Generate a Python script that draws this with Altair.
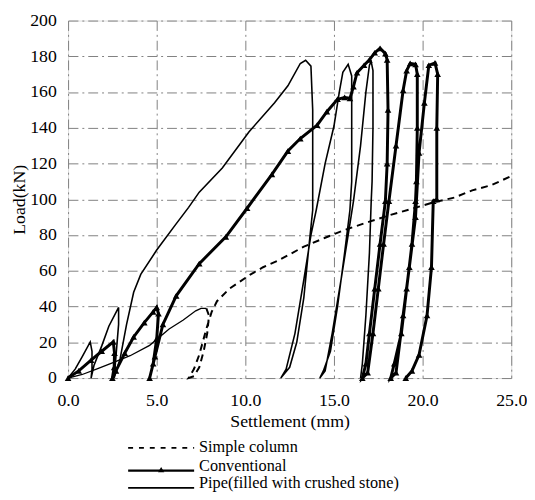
import altair as alt
import pandas as pd

# ---- data ----
# Simple column: first loading (drawn as a fine line), then unload/reload (dashed)
simple_first_x = [0.0, 0.8, 1.6, 2.5, 3.5, 4.6, 5.7, 6.5, 7.2, 7.5, 7.8]
simple_first_y = [0.0, 2.0, 5.0, 8.5, 12.5, 18.3, 27.5, 32.5, 37.6, 39.0, 39.0]
simple_x = [7.8, 7.95, 7.85, 7.65, 7.4, 7.1, 6.8, 7.1, 7.4, 7.8, 8.1, 8.4, 9.1, 10.3, 11.0,
            11.8, 13.3, 14.5, 15.5, 17.0, 18.1, 19.5, 20.5, 21.8, 22.8, 23.9, 25.0]
simple_y = [39.0, 35.0, 25.0, 15.0, 6.0, 1.0, 0.0, 5.0, 13.0, 27.5, 37.0, 43.0, 50.0, 58.0, 62.0,
            65.5, 73.5, 78.5, 82.5, 87.5, 91.0, 95.0, 98.0, 101.0, 105.0, 108.0, 113.0]

conv_x = [0.0, 0.6, 1.3, 1.9, 2.55, 2.62, 2.6, 2.5,
          2.7, 3.2, 3.7, 4.3, 4.8, 5.0, 5.1, 5.0, 4.8, 4.6,
          4.9, 5.35, 6.1, 7.4, 8.9, 10.1, 11.5, 12.4, 13.1, 14.05, 14.6, 15.2, 15.6, 15.9,
          16.1, 16.3, 16.7, 17.0, 17.3, 17.6, 17.9, 18.0,
          18.05, 18.0, 17.9, 17.6, 17.3, 17.0, 16.8, 16.6,
          16.9, 17.2, 17.5, 17.8, 18.1, 18.5, 18.9, 19.1, 19.3, 19.6, 19.7,
          19.7, 19.65, 19.6, 19.4, 19.1, 18.8, 18.4, 18.2,
          18.5, 18.9, 19.25, 19.6, 19.8, 20.1, 20.35, 20.7, 20.85,
          20.8, 20.8, 20.6, 20.5, 20.25, 19.8, 19.4, 19.05]
conv_y = [0.0, 4.0, 10.0, 15.0, 20.3, 14.0, 6.0, 0.0,
          4.0, 14.0, 23.0, 31.0, 37.0, 39.5, 36.0, 22.0, 8.0, 0.0,
          12.0, 30.0, 46.0, 64.0, 79.0, 95.0, 114.0, 127.0, 134.0, 141.5, 149.0, 156.0, 157.0, 156.5,
          163.0, 170.8, 175.0, 178.0, 182.0, 184.5, 181.5, 178.0,
          150.0, 120.0, 99.0, 75.0, 50.0, 25.0, 8.0, 0.0,
          3.0, 25.0, 50.0, 75.0, 99.0, 130.0, 161.0, 172.0, 176.0, 175.5, 170.0,
          140.0, 110.0, 99.0, 75.0, 50.0, 25.0, 8.0, 0.0,
          3.0, 35.0, 62.0, 90.0, 126.0, 154.0, 175.0, 176.3, 170.0,
          140.0, 100.0, 99.0, 62.0, 35.0, 13.0, 4.0, 0.0]

pipe_x = [0.0, 0.4, 0.8, 1.25, 1.35, 1.35, 1.3,
          1.46, 1.9, 2.3, 2.85, 2.85, 2.7, 2.6,
          2.94, 3.3, 3.7, 4.1, 5.0, 6.0, 6.8, 7.4, 8.7, 10.2, 11.65, 12.4, 13.1, 13.4, 13.7,
          13.8, 13.8, 13.8, 13.6, 13.3, 12.9, 12.5, 12.0,
          12.3, 12.8, 13.3, 13.7, 14.0, 14.5, 15.0, 15.3, 15.5, 15.8, 16.0,
          16.0, 16.0, 15.9, 15.6, 15.2, 14.8, 14.4, 14.2,
          14.5, 14.9, 15.4, 15.8, 16.1, 16.5, 16.8, 17.0, 17.1, 17.2,
          17.2, 17.15, 17.1, 17.0, 16.8, 16.6, 16.5]
pipe_y = [0.0, 5.0, 12.0, 20.2, 15.0, 5.0, 0.0,
          7.0, 18.0, 29.0, 39.5, 30.0, 12.0, 0.0,
          11.0, 30.0, 48.0, 58.0, 71.6, 85.0, 95.5, 104.0, 117.5, 137.7, 154.0, 163.5, 176.0, 177.8, 174.5,
          150.0, 120.0, 94.0, 75.0, 45.0, 20.0, 6.0, 0.0,
          5.0, 25.0, 55.0, 80.0, 94.0, 120.0, 141.0, 160.0, 171.0, 175.5, 169.0,
          140.0, 110.0, 94.0, 70.0, 40.0, 15.0, 4.0, 0.0,
          4.0, 25.0, 55.0, 80.0, 99.0, 130.0, 160.0, 175.0, 177.0, 172.0,
          140.0, 110.0, 99.0, 70.0, 35.0, 8.0, 0.0]

x_ticks = [0, 5, 10, 15, 20, 25]
y_ticks = [0, 20, 40, 60, 80, 100, 120, 140, 160, 180, 200]
legend_labels = ["Simple column", "Conventional", "Pipe(filled with crushed stone)"]


def frame(xs, ys):
    return pd.DataFrame({"i": list(range(len(xs))), "x": xs, "y": ys})


FONT = "Liberation Serif"
W, H = 450, 363

xenc = alt.X("x:Q", scale=alt.Scale(domain=[0, 25], nice=False),
             axis=alt.Axis(values=x_ticks, format=".1f", title="Settlement (mm)",
                           grid=True, gridDash=[10, 4, 2, 4], gridColor="#808080",
                           gridWidth=1, domain=False, ticks=False, labelPadding=14,
                           labelOverlap=False, labelFlush=False,
                           labelFont=FONT, labelFontSize=18, labelColor="black",
                           titleFont=FONT, titleFontSize=18, titleFontWeight="normal",
                           titleColor="black", titlePadding=3))
yenc = alt.Y("y:Q", scale=alt.Scale(domain=[0, 200], nice=False),
             axis=alt.Axis(values=y_ticks, title="Load(kN)",
                           grid=True, gridDash=[10, 4, 2, 4], gridColor="#808080",
                           gridWidth=1, domain=False, ticks=False, labelPadding=12,
                           labelOverlap=False, labelFlush=False,
                           labelFont=FONT, labelFontSize=18, labelColor="black",
                           titleFont=FONT, titleFontSize=18, titleFontWeight="normal",
                           titleColor="black", titlePadding=1))

simple_first = alt.Chart(frame(simple_first_x, simple_first_y)).mark_line(
    color="black", strokeWidth=1.3).encode(x=xenc, y=yenc, order="i:Q")
simple = alt.Chart(frame(simple_x, simple_y)).mark_line(
    color="black", strokeWidth=2, strokeDash=[7, 5]).encode(x=xenc, y=yenc, order="i:Q")
conv = alt.Chart(frame(conv_x, conv_y)).mark_line(
    color="black", strokeWidth=3).encode(x=xenc, y=yenc, order="i:Q")
conv_pts = alt.Chart(frame(conv_x, conv_y)).mark_point(
    shape="triangle-up", filled=True, size=45, color="black", opacity=1).encode(x=xenc, y=yenc)
pipe = alt.Chart(frame(pipe_x, pipe_y)).mark_line(
    color="black", strokeWidth=1.6).encode(x=xenc, y=yenc, order="i:Q")

# ---- legend drawn under the plot ----
leg = pd.DataFrame({"label": legend_labels})
lx1, lx2, ltx = 61, 128, 133
leg_rows = [(434, 438), (457, 457), (474.5, 475)]

legend_layers = []
legend_layers.append(alt.Chart(leg).transform_filter(alt.datum.label == legend_labels[0]).mark_rule(
    color="black", strokeWidth=1.8, strokeDash=[5, 6]).encode(
    x=alt.value(lx1), x2=alt.value(lx2), y=alt.value(leg_rows[0][0])))
legend_layers.append(alt.Chart(leg).transform_filter(alt.datum.label == legend_labels[1]).mark_rule(
    color="black", strokeWidth=2.5).encode(
    x=alt.value(lx1), x2=alt.value(lx2), y=alt.value(leg_rows[1][0])))
legend_layers.append(alt.Chart(leg).transform_filter(alt.datum.label == legend_labels[1]).mark_point(
    shape="triangle-up", filled=True, size=40, color="black", opacity=1).encode(
    x=alt.value((lx1 + lx2) / 2), y=alt.value(leg_rows[1][0] - 1)))
legend_layers.append(alt.Chart(leg).transform_filter(alt.datum.label == legend_labels[2]).mark_rule(
    color="black", strokeWidth=1.6).encode(
    x=alt.value(lx1), x2=alt.value(lx2), y=alt.value(leg_rows[2][0])))
for k, lab in enumerate(legend_labels):
    legend_layers.append(alt.Chart(leg).transform_filter(alt.datum.label == lab).mark_text(
        align="left", baseline="alphabetic", font=FONT, fontSize=16.5, color="black").encode(
        x=alt.value(ltx), y=alt.value(leg_rows[k][1]), text="label:N"))

chart = alt.layer(simple_first, simple, pipe, conv, conv_pts, *legend_layers).properties(
    width=W, height=H,
    padding={"left": 3, "top": 0, "right": 0, "bottom": 0},
).configure_view(stroke="black", strokeWidth=2.5).configure(background="white")

chart.save("out.html", embed_options={"renderer": "svg", "actions": False})
